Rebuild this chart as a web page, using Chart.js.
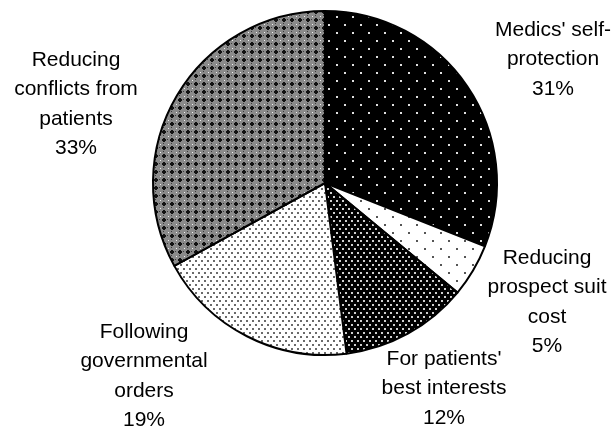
<!DOCTYPE html>
<html>
<head>
<meta charset="utf-8">
<script src="https://cdn.jsdelivr.net/npm/chart.js@4.4.0/dist/chart.umd.min.js"></script>
<style>
  html, body { margin: 0; padding: 0; background: #fff; }
  #wrap { width: 616px; height: 432px; }
</style>
</head>
<body>
<div id="wrap"><canvas id="myChart" width="616" height="432"></canvas></div>
<script>
// slices go clockwise from 12 o'clock
const categories = [
  "Medics' self-\nprotection",
  'Reducing\nprospect suit\ncost',
  "For patients'\nbest interests",
  'Following\ngovernmental\norders',
  'Reducing\nconflicts from\npatients'
];
const shares = [31, 5, 12, 19, 33];

// label block centres (x, first line y) for each slice
const labelSpots = [
  { x: 553, y: 30 },
  { x: 547, y: 258 },
  { x: 444, y: 359 },
  { x: 144, y: 332 },
  { x: 76, y: 60 }
];

const canvas = document.getElementById('myChart');
const ctx = canvas.getContext('2d');

// little helper to make a repeating tile
function makeTile(w, h, bg, draw) {
  const c = document.createElement('canvas');
  c.width = w;
  c.height = h;
  const t = c.getContext('2d');
  t.fillStyle = bg;
  t.fillRect(0, 0, w, h);
  draw(t);
  return ctx.createPattern(c, 'repeat');
}

function dot(t, x, y, col, s) {
  t.fillStyle = col;
  t.fillRect(x, y, s, s);
}

const patterns = [
  // black, sparse white dots
  makeTile(16, 16, '#000', t => {
    dot(t, 0, 0, '#e0e0e0', 2);
    dot(t, 8, 8, '#e0e0e0', 2);
  }),
  // white, sparse grey dots
  makeTile(16, 16, '#fff', t => {
    dot(t, 0, 0, '#555', 2);
    dot(t, 8, 8, '#555', 2);
  }),
  // black, dense white dots
  makeTile(6, 8, '#000', t => {
    dot(t, 0, 0, '#cfcfcf', 2);
    dot(t, 3, 4, '#cfcfcf', 2);
  }),
  // white, dense grey dots
  makeTile(6, 8, '#fff', t => {
    dot(t, 0, 0, '#6a6a6a', 2);
    dot(t, 3, 4, '#6a6a6a', 2);
  }),
  // grey crosshatch
  makeTile(8, 8, '#8a8a8a', t => {
    t.fillStyle = '#111';
    t.fillRect(2, 3, 4, 2);
    t.fillRect(3, 2, 2, 4);
    dot(t, 0, 0, '#f0f0f0', 1);
    dot(t, 7, 3, '#3a3a3a', 1);
    dot(t, 3, 7, '#3a3a3a', 1);
  })
];

const outsideLabels = {
  id: 'outsideLabels',
  afterDraw(chart) {
    const c = chart.ctx;
    c.save();
    c.font = '21px "Liberation Sans", Arial, sans-serif';
    c.fillStyle = '#000';
    c.textAlign = 'center';
    c.textBaseline = 'middle';
    categories.forEach((cat, i) => {
      const lines = cat.split('\n').concat(shares[i] + '%');
      const spot = labelSpots[i];
      lines.forEach((ln, j) => {
        c.fillText(ln, spot.x, spot.y + j * 29.5);
      });
    });
    c.restore();
  }
};

new Chart(ctx, {
  type: 'pie',
  data: {
    labels: categories,
    datasets: [{
      data: shares,
      backgroundColor: patterns,
      borderColor: '#000',
      borderWidth: 2,
      borderAlign: 'center'
    }]
  },
  options: {
    responsive: false,
    animation: false,
    layout: {
      padding: { left: 152, right: 118, top: 10, bottom: 76 }
    },
    plugins: {
      legend: { display: false },
      tooltip: { enabled: false }
    }
  },
  plugins: [outsideLabels]
});
</script>
</body>
</html>
